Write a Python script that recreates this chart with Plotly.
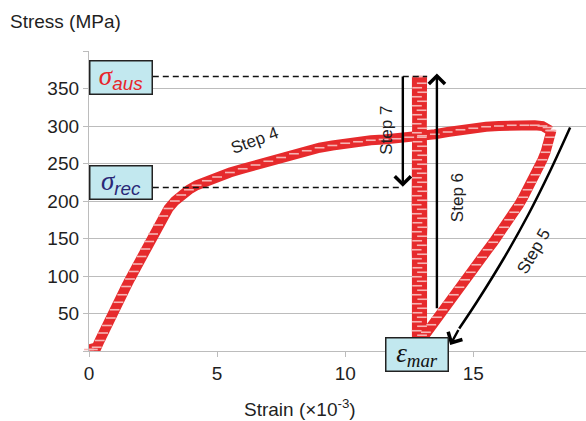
import plotly.graph_objects as go

# ---- measured stress-strain loop (strain in 1e-3, stress in MPa) ----
# Steps 1-4: isothermal loading
load_strain = [0.0, 0.15, 0.3, 0.42, 0.55, 0.7, 0.85, 1.0, 1.15, 1.3, 1.45, 1.6, 1.75, 1.9,
               2.05, 2.2, 2.35, 2.5, 2.7, 2.9, 3.1, 3.35, 3.6, 3.9, 4.2, 4.6, 5.0, 5.5, 6.0,
               6.5, 7.0, 7.5, 8.0, 8.5, 9.0, 9.5, 10.0, 10.5, 11.0, 11.5, 12.0, 12.5, 13.0,
               13.5, 14.0, 14.5, 15.0, 15.5, 16.0, 16.5, 17.0, 17.4, 17.7, 17.9, 18.0]
load_stress = [2, 2, 5, 14, 24, 34, 44, 55, 65, 75, 86, 96, 106, 116,
               126, 136, 146, 156, 168, 180, 190, 200, 208, 215, 221, 227, 232, 238, 243,
               248, 253, 258, 263, 267, 271, 274, 277, 279, 281, 282, 283, 285, 287,
               289, 292, 295, 297, 299, 300, 301, 301, 301, 300, 298, 294]

# Step 5: unloading
unload_strain = [18.05, 18.0, 17.92, 17.82, 17.7, 17.57, 17.43, 17.28, 17.12, 16.95, 16.78,
                 16.6, 16.4, 16.2, 16.0, 15.78, 15.56, 15.34, 15.12, 14.9, 14.68, 14.46,
                 14.24, 14.02, 13.8, 13.58, 13.36, 13.15, 12.98, 12.85]
unload_stress = [294, 285, 275, 265, 255, 245, 235, 225, 215, 205, 195, 185, 175, 165, 155,
                 145, 135, 125, 115, 105, 95, 85, 75, 65, 55, 45, 35, 25, 15, 5]

# Step 6: heating at constant strain (stress rises)
heat_strain = [12.8, 12.81, 12.79, 12.8, 12.82, 12.8, 12.79, 12.81, 12.8, 12.82, 12.8,
               12.79, 12.81, 12.8, 12.82, 12.8, 12.79, 12.8, 12.81, 12.8, 12.79, 12.81,
               12.8, 12.82, 12.8, 12.79, 12.81, 12.8, 12.8, 12.81, 12.8]
heat_stress = [3, 15, 27, 39, 51, 63, 75, 87, 99, 111, 123, 135, 147, 159, 171, 183, 195,
               207, 219, 231, 243, 255, 267, 279, 291, 303, 315, 327, 339, 351, 366]

# Step 7: cooling at constant strain (stress drops)
cool_strain = [13.0, 12.99, 13.01, 13.0, 12.98, 13.0, 13.01, 12.99, 13.0, 13.01, 13.0,
               12.99, 13.0, 13.01, 13.0, 12.99, 13.0, 13.01, 13.0, 12.99, 13.0, 13.01,
               13.0, 12.99, 13.0, 13.01, 13.0, 12.99, 13.0, 13.0, 12.98]
cool_stress = [366, 357, 345, 333, 321, 309, 297, 285, 273, 261, 249, 237, 225, 213, 201,
               189, 177, 165, 153, 141, 129, 117, 105, 93, 81, 69, 57, 45, 33, 21, 6]

y_ticks = [0, 50, 100, 150, 200, 250, 300, 350, 400]
y_tick_text = ["", "50", "100", "150", "200", "250", "300", "350", ""]
x_ticks = [0, 5, 10, 15]

sigma_aus = 366
sigma_rec = 218
eps_mar = 12.82

# arrow path beside the unloading branch
step5_strain = [18.78, 18.0, 17.15, 16.2, 15.15, 14.45]
step5_stress = [298, 240, 182, 124, 66, 30]

RED = "#e62a2c"
PINK = "#f6b4b4"
GRID = "#bcbcbc"
TEXT = "#1f1f1f"
BOX = "#c2e8ef"

fig = go.Figure()

segments = [(load_strain, load_stress), (unload_strain, unload_stress),
            (heat_strain, heat_stress), (cool_strain, cool_stress)]
for sx, sy in segments:
    fig.add_trace(go.Scatter(x=sx, y=sy, mode="lines",
                             line=dict(color=RED, width=10), hoverinfo="skip",
                             showlegend=False, cliponaxis=False))
for sx, sy in segments:
    fig.add_trace(go.Scatter(x=sx, y=sy, mode="markers",
                             marker=dict(symbol="line-ew", size=7,
                                         line=dict(color=PINK, width=1.6)),
                             hoverinfo="skip", showlegend=False, cliponaxis=False))

# dashed reference levels
fig.add_trace(go.Scatter(x=[2.49, 13.2], y=[sigma_aus, sigma_aus], mode="lines",
                         line=dict(color="#111", width=1.6, dash="6px,4px"),
                         showlegend=False, hoverinfo="skip", cliponaxis=False))
fig.add_trace(go.Scatter(x=[2.49, 12.25], y=[sigma_rec, sigma_rec], mode="lines",
                         line=dict(color="#111", width=1.6, dash="6px,4px"),
                         showlegend=False, hoverinfo="skip", cliponaxis=False))

# Step 5 arrow shaft
fig.add_trace(go.Scatter(x=step5_strain, y=step5_stress, mode="lines",
                         line=dict(color="#000", width=2.5, shape="spline"),
                         showlegend=False, hoverinfo="skip", cliponaxis=False))

ann = []


def arrow(x0, y0, x1, y1):
    return dict(x=x1, y=y1, ax=x0, ay=y0, xref="x", yref="y", axref="x", ayref="y",
                text="", showarrow=True, arrowhead=4, arrowsize=1.3, arrowwidth=2.4,
                arrowcolor="#000")


ann.append(arrow(12.25, 368, 12.25, sigma_rec + 1))
ann.append(arrow(13.58, 55, 13.58, 370))
ann.append(arrow(step5_strain[-1], step5_stress[-1], 14.1, 8))

step_font = dict(family="Liberation Sans, Arial", size=17, color=TEXT)
ann.append(dict(x=6.47, y=281, xref="x", yref="y", text="Step 4", showarrow=False,
                textangle=-20, font=step_font))
ann.append(dict(x=11.63, y=295, xref="x", yref="y", text="Step 7", showarrow=False,
                textangle=-90, font=step_font))
ann.append(dict(x=14.36, y=205, xref="x", yref="y", text="Step 6", showarrow=False,
                textangle=-90, font=step_font))
ann.append(dict(x=17.35, y=133, xref="x", yref="y", text="Step 5", showarrow=False,
                textangle=-60, font=step_font))


def box(x, y, text, color, yref="y"):
    return dict(x=x, y=y, xref="x", yref=yref, text=text, showarrow=False,
                font=dict(family="Liberation Serif, Times New Roman", size=27, color=color),
                bgcolor=BOX, bordercolor="#222", borderwidth=1.5, borderpad=0,
                width=61, height=32, align="center", valign="middle")


L, R, T, B = 89, 0, 51, 70
W, H = 586, 421
pw, ph = W - L - R, H - T - B

ann.append(box(1.26, 365,
               "<i>σ</i><sub><span style='font-family:Liberation Sans'><i>aus</i></span></sub>",
               "#e8262b"))
ann.append(box(1.26, 225,
               "<i>σ</i><sub><span style='font-family:Liberation Sans'><i>rec</i></span></sub>",
               "#2a2877"))
# strain box sits below the axis, so it is placed in paper units vertically
ann.append(box(eps_mar, ((H - 371.5) - B) / ph, "<i>ε</i><sub><i>mar</i></sub>", "#111",
               yref="paper"))

# axis titles (pixel positions converted to paper units)
ann.append(dict(x=(8 - L) / pw, y=((H - 22) - B) / ph, xref="paper", yref="paper",
                text="Stress (MPa)", showarrow=False, xanchor="left", yanchor="middle",
                font=dict(family="Liberation Sans, Arial", size=19, color=TEXT)))
ann.append(dict(x=(300 - L) / pw, y=((H - 408) - B) / ph, xref="paper", yref="paper",
                text="Strain (×10<sup>-3</sup>)", showarrow=False,
                xanchor="center", yanchor="middle",
                font=dict(family="Liberation Sans, Arial", size=19, color=TEXT)))

fig.update_layout(
    width=W, height=H,
    margin=dict(l=L, r=R, t=T, b=B),
    paper_bgcolor="white", plot_bgcolor="white",
    annotations=ann,
    xaxis=dict(range=[0, 19.4], tickvals=x_ticks, showgrid=False, zeroline=False,
               showline=True, linecolor=GRID, linewidth=1.3, ticks="outside",
               ticklen=5, tickcolor=GRID,
               tickfont=dict(family="Liberation Sans, Arial", size=19, color=TEXT)),
    yaxis=dict(range=[0, 400], tickvals=y_ticks, ticktext=y_tick_text, showgrid=True,
               gridcolor=GRID, gridwidth=1.3, zeroline=False, showline=True,
               linecolor=GRID, linewidth=1.3, ticks="outside", ticklen=5, tickcolor=GRID,
               tickfont=dict(family="Liberation Sans, Arial", size=19, color=TEXT)),
)

fig.write_html("out.html")
